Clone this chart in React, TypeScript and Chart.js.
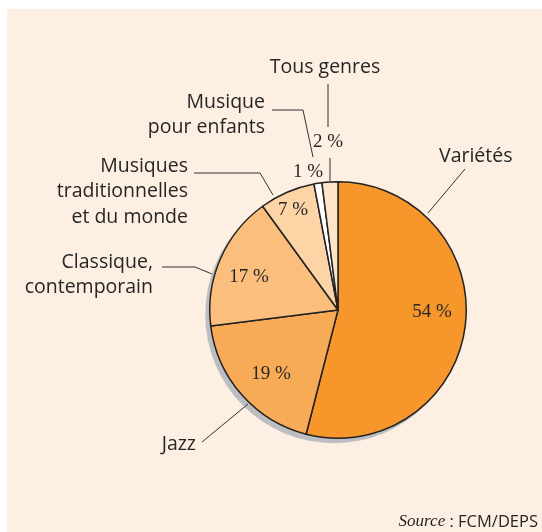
import React, { useEffect, useRef } from "react";
import { Chart, registerables } from "chart.js";

Chart.register(...registerables);

// ---- data ----
const categories = [
  "Variétés",
  "Jazz",
  "Classique, contemporain",
  "Musiques traditionnelles et du monde",
  "Musique pour enfants",
  "Tous genres",
];
const shares = [54, 19, 17, 7, 1, 2];
const valueLabels = ["54 %", "19 %", "17 %", "7 %", "1 %", "2 %"];
const categoryLines = [
  ["Variétés"],
  ["Jazz"],
  ["Classique,", "contemporain"],
  ["Musiques", "traditionnelles", "et du monde"],
  ["Musique", "pour enfants"],
  ["Tous genres"],
];
const sourceNote = ["Source", " : FCM/DEPS"];

// ---- styles / layout ----
const sliceColors = ["#F6962B", "#F8AB57", "#FBBE7D", "#FDD4A6", "#FFFFFF", "#FEE5CA"];
const BG = "#FDEFE2";
const TEXT = "#262626";

type Layout = {
  x: number;
  y: number;
  align: CanvasTextAlign;
  lineGap: number;
  leaders: number[][][];
  vx: number;
  vy: number;
};

const layouts: Layout[] = [
  { x: 439, y: 156, align: "left", lineGap: 25, leaders: [[[465, 169], [428, 213]]], vx: 432, vy: 312 },
  { x: 196, y: 444, align: "right", lineGap: 25, leaders: [[[202, 442], [248, 404]]], vx: 271, vy: 374 },
  { x: 153, y: 262, align: "right", lineGap: 25.5, leaders: [[[162, 267], [195, 267], [212, 274]]], vx: 249, vy: 277 },
  { x: 188, y: 166, align: "right", lineGap: 25.5, leaders: [[[194, 173], [260, 173], [273, 195]]], vx: 293, vy: 210 },
  { x: 265, y: 102, align: "right", lineGap: 25.5, leaders: [[[272, 110], [303, 110], [313, 157]]], vx: 308, vy: 172 },
  { x: 325, y: 67, align: "center", lineGap: 25, leaders: [[[328, 84], [328, 127]], [[330, 158], [330, 181]]], vx: 328, vy: 142 },
];

const SANS = '"Open Sans", "Noto Sans", sans-serif';
const SERIF = '"Liberation Serif", "DejaVu Serif", serif';

const decorPlugin = {
  id: "decor",
  beforeDraw(chart: any) {
    const ctx = chart.ctx;
    ctx.save();
    ctx.fillStyle = BG;
    ctx.fillRect(7, 9, chart.width - 7, chart.height - 9);
    ctx.restore();
  },
  beforeDatasetsDraw(chart: any) {
    const arc = chart.getDatasetMeta(0).data[0];
    if (!arc) return;
    const ctx = chart.ctx;
    ctx.save();
    ctx.fillStyle = "#BCBEC2";
    ctx.beginPath();
    ctx.arc(arc.x - 4, arc.y + 4.5, arc.outerRadius + 0.5, 0, Math.PI * 2);
    ctx.fill();
    ctx.restore();
  },
  afterDatasetsDraw(chart: any) {
    const ctx = chart.ctx;
    ctx.save();
    ctx.strokeStyle = "#333333";
    ctx.lineWidth = 1;
    layouts.forEach((l) => {
      l.leaders.forEach((pts) => {
        ctx.beginPath();
        pts.forEach((p, i) => (i === 0 ? ctx.moveTo(p[0], p[1]) : ctx.lineTo(p[0], p[1])));
        ctx.stroke();
      });
    });
    ctx.fillStyle = TEXT;
    ctx.textBaseline = "middle";
    // category labels
    ctx.font = `19.5px ${SANS}`;
    categoryLines.forEach((lines, i) => {
      const l = layouts[i];
      ctx.textAlign = l.align;
      lines.forEach((t, j) => ctx.fillText(t, l.x, l.y + j * l.lineGap));
    });
    // value labels
    ctx.font = `19px ${SERIF}`;
    ctx.textAlign = "center";
    valueLabels.forEach((t, i) => {
      const l = layouts[i];
      ctx.fillText(t, l.vx, l.vy);
    });
    // source
    ctx.textAlign = "left";
    const f1 = `italic 17px ${SERIF}`;
    const f2 = `16.5px ${SANS}`;
    ctx.font = f1;
    const w1 = ctx.measureText(sourceNote[0]).width;
    ctx.font = f2;
    const w2 = ctx.measureText(sourceNote[1]).width;
    const sx = 538 - w1 - w2;
    ctx.font = f1;
    ctx.fillText(sourceNote[0], sx, 522);
    ctx.font = f2;
    ctx.fillText(sourceNote[1], sx + w1, 522);
    ctx.restore();
  },
};

export default function App() {
  const ref = useRef<HTMLCanvasElement | null>(null);
  useEffect(() => {
    if (!ref.current) return;
    const chart = new Chart(ref.current, {
      type: "pie",
      data: {
        labels: categories,
        datasets: [
          {
            data: shares,
            backgroundColor: sliceColors,
            borderColor: "#222222",
            borderWidth: 1.5,
          },
        ],
      },
      options: {
        animation: false,
        responsive: false,
        rotation: 0,
        layout: { padding: { left: 209, right: 75, top: 181, bottom: 93 } },
        plugins: { legend: { display: false }, tooltip: { enabled: false } },
      },
      plugins: [decorPlugin],
    });
    return () => chart.destroy();
  }, []);
  return (
    <div style={{ position: "absolute", left: 0, top: 0, width: 542, height: 532 }}>
      <canvas ref={ref} width={542} height={532} style={{ width: 542, height: 532, display: "block" }} />
    </div>
  );
}
